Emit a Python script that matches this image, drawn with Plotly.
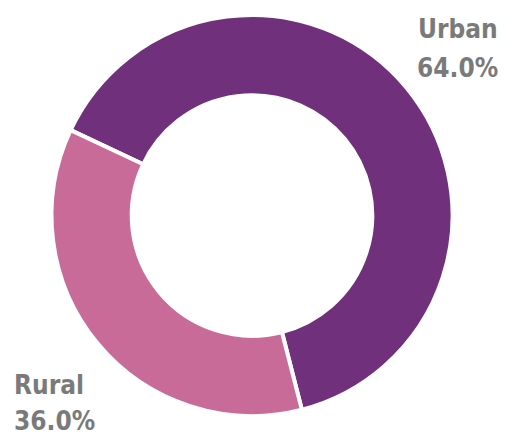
import plotly.graph_objects as go

labels = ["Urban", "Rural"]
values = [64.0, 36.0]
colors = ["#70307b", "#c86b98"]

fig = go.Figure(go.Pie(
    labels=labels, values=values, hole=0.6, sort=False,
    direction="clockwise", rotation=295.2,
    marker=dict(colors=colors, line=dict(color="white", width=4)),
    textinfo="none", hoverinfo="label+percent", showlegend=False,
))

font = dict(family="DejaVu Sans", size=26, color="#7a7a7a", weight="bold")

def label(x, ys, xanchor, name, val):
    for y, t in zip(ys, [name, f"{val:.1f}%"]):
        fig.add_annotation(x=x, y=y, xref="paper", yref="paper", xanchor=xanchor, yanchor="middle",
                           text=f'<span style="font-stretch:condensed">{t}</span>',
                           showarrow=False, font=font)

label(1.117, [0.965, 0.868], "right", labels[0], values[0])
label(-0.097, [0.077, -0.012], "left", labels[1], values[1])

# page body adds an 8px offset; figure size/margins compensate
fig.update_layout(width=500, height=427, margin=dict(l=43, r=55, t=7, b=19),
                  paper_bgcolor="white", plot_bgcolor="white")
fig.write_html("out.html")
